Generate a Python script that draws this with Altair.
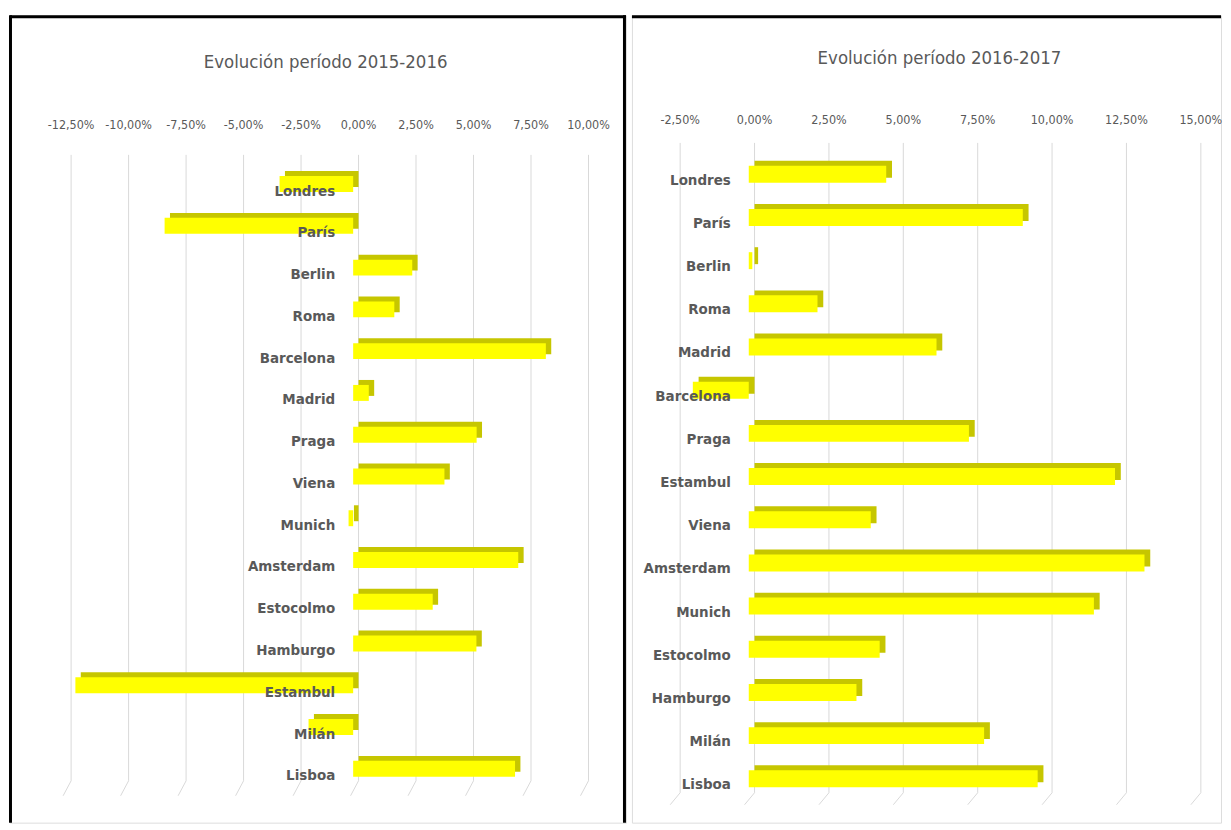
import altair as alt
import pandas as pd

FONT = "Liberation Sans Narrow, DejaVu Sans Condensed, Arial Narrow, sans-serif"
TEXT = "#595959"
GRID = "#d9d9d9"
YELLOW = "#ffff00"
OLIVE = "#c6c600"
BG = "#f2f2f2"

# ---- data -------------------------------------------------------------
title_1516 = "Evolución período 2015-2016"
cities_1516 = ["Londres", "París", "Berlin", "Roma", "Barcelona", "Madrid", "Praga",
               "Viena", "Munich", "Amsterdam", "Estocolmo", "Hamburgo", "Estambul",
               "Milán", "Lisboa"]
change_1516 = [-3.2, -8.2, 2.57, 1.79, 8.38, 0.68, 5.37, 3.97, -0.2, 7.18, 3.46, 5.36,
               -12.08, -1.94, 7.04]
ticks_1516 = [-12.5, -10.0, -7.5, -5.0, -2.5, 0.0, 2.5, 5.0, 7.5, 10.0]

title_1617 = "Evolución período 2016-2017"
cities_1617 = ["Londres", "París", "Berlin", "Roma", "Madrid", "Barcelona", "Praga",
               "Estambul", "Viena", "Amsterdam", "Munich", "Estocolmo", "Hamburgo",
               "Milán", "Lisboa"]
change_1617 = [4.62, 9.21, 0.12, 2.31, 6.31, -1.88, 7.40, 12.31, 4.10, 13.30, 11.60,
               4.40, 3.62, 7.91, 9.71]
ticks_1617 = [-2.5, 0.0, 2.5, 5.0, 7.5, 10.0, 12.5, 15.0]

H = 810


def panel(title, cities, changes, ticks, W, domain, yrange, title_xy,
          tick_y, grid_y, slant_dx, bar_h, depth, shift, label_dx, label_dy,
          divider):
    df = pd.DataFrame({"city": cities, "value": [v / 100 for v in changes], "zero": 0.0})
    tdf = pd.DataFrame({"tick": [t / 100 for t in ticks]})

    xscale = alt.Scale(domain=[d / 100 for d in domain], nice=False, zero=False)

    def Y():
        return alt.Y("city:N", sort=cities, axis=None,
                     scale=alt.Scale(paddingInner=0, paddingOuter=0, range=yrange))

    grid = alt.Chart(tdf).mark_rule(color=GRID, strokeWidth=1).encode(
        x=alt.X("tick:Q", scale=xscale, axis=None),
        y=alt.value(grid_y[0]), y2=alt.value(grid_y[1]))

    slant = alt.Chart(tdf).mark_rule(color=GRID, strokeWidth=1, x2Offset=slant_dx).encode(
        x=alt.X("tick:Q", axis=None), x2="tick:Q",
        y=alt.value(grid_y[1]), y2=alt.value(grid_y[2]))

    tick_labels = alt.Chart(tdf).transform_calculate(
        lab="replace(replace(format(datum.tick, '.2%'), '.', ','), '\u2212', '-')"
    ).mark_text(font=FONT, fontSize=12.5, color=TEXT, align="center",
                baseline="middle").encode(
        x=alt.X("tick:Q", axis=None), y=alt.value(tick_y), text="lab:N")

    back = alt.Chart(df).mark_bar(color=OLIVE, size=bar_h, yOffset=2 - depth).encode(
        x=alt.X("value:Q", axis=None), x2="zero:Q", y=Y())

    front = alt.Chart(df).mark_bar(color=YELLOW, size=bar_h, yOffset=2,
                                   xOffset=-shift, x2Offset=-shift).encode(
        x=alt.X("value:Q", axis=None), x2="zero:Q", y=Y())

    labels = alt.Chart(df).mark_text(align="right", baseline="alphabetic", dx=label_dx,
                                     dy=label_dy, font=FONT, fontSize=15,
                                     fontWeight="bold", color=TEXT).encode(
        x=alt.X("zero:Q", axis=None), y=Y(), text="city:N")

    ttl = alt.Chart(pd.DataFrame({"t": [title]})).mark_text(
        font=FONT, fontSize=18.5, color=TEXT, align="center", baseline="middle").encode(
        text="t:N", x=alt.value(title_xy[0]), y=alt.value(title_xy[1]))

    one = pd.DataFrame({"k": [0]})
    top_line = alt.Chart(one).mark_rule(color="black", strokeWidth=3).encode(
        x=alt.value(0), x2=alt.value(W), y=alt.value(1.5), y2=alt.value(1.5))
    layers = [grid, slant, tick_labels, back, front, labels, ttl, top_line]
    for xv in divider:
        layers.append(alt.Chart(one).mark_rule(color="black", strokeWidth=3).encode(
            x=alt.value(xv), x2=alt.value(xv), y=alt.value(0), y2=alt.value(H)))

    return alt.layer(*layers).properties(width=W, height=H)


left = panel(title_1516, cities_1516, change_1516, ticks_1516, W=618,
             domain=[-15.158, 11.630], yrange=[146.35, 774.95],
             title_xy=(316.7, 47), tick_y=110, grid_y=(140, 768, 783),
             slant_dx=-8, bar_h=16, depth=5, shift=5.4, label_dx=-23.4, label_dy=13.5,
             divider=[0.5, 616.5])

right = panel(title_1617, cities_1617, change_1617, ticks_1617, W=591,
              domain=[-4.1206, 15.678], yrange=[135.84, 785.66],
              title_xy=(308.5, 43), tick_y=105.5, grid_y=(128, 780, 792),
              slant_dx=-10, bar_h=17, depth=5, shift=5.8, label_dx=-23.8, label_dy=12.5,
              divider=[])

chart = alt.hconcat(left, right, spacing=6).properties(
    bounds="flush",
    padding={"left": 0, "top": 4, "right": 0, "bottom": 0},
).configure_view(fill=BG, stroke=None).configure(background="white")

chart.save("out.html", embed_options={"renderer": "svg", "actions": False})
